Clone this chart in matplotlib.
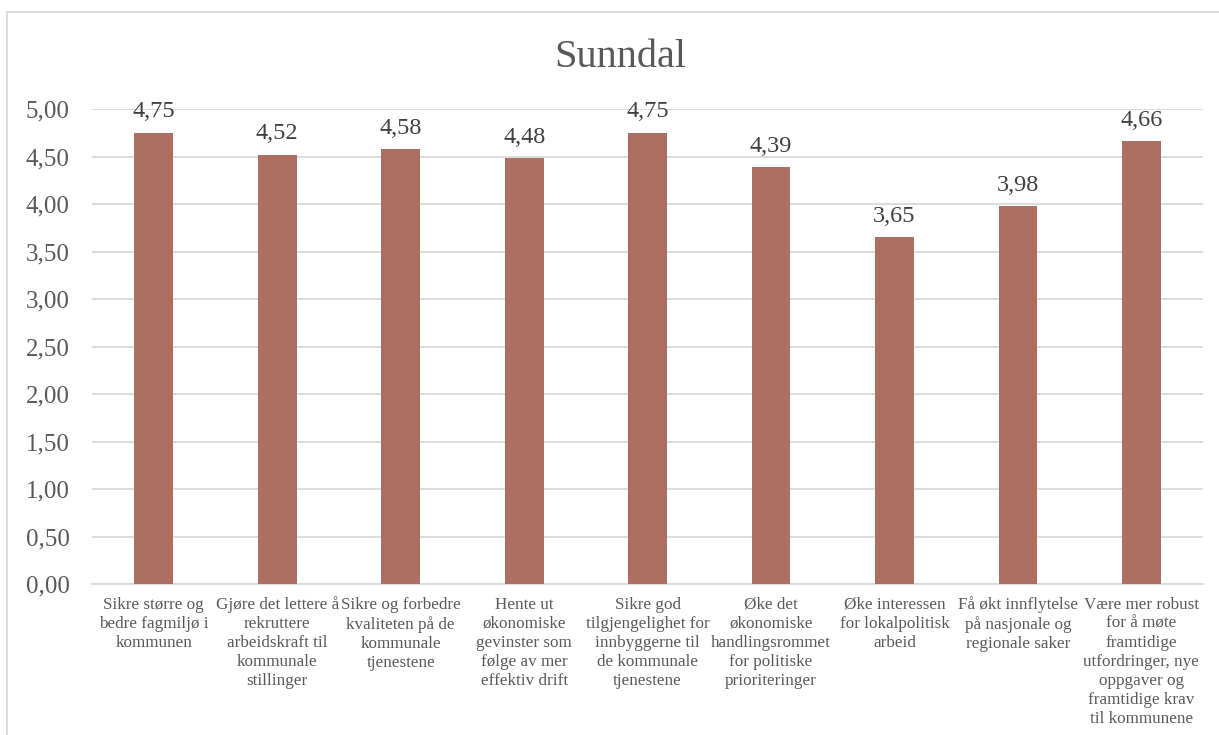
import matplotlib.pyplot as plt
from matplotlib.patches import Rectangle
from matplotlib.ticker import FuncFormatter

# Data
categories = [
    "Sikre større og\nbedre fagmiljø i\nkommunen",
    "Gjøre det lettere å\nrekruttere\narbeidskraft til\nkommunale\nstillinger",
    "Sikre og forbedre\nkvaliteten på de\nkommunale\ntjenestene",
    "Hente ut\nøkonomiske\ngevinster som\nfølge av mer\neffektiv drift",
    "Sikre god\ntilgjengelighet for\ninnbyggerne til\nde kommunale\ntjenestene",
    "Øke det\nøkonomiske\nhandlingsrommet\nfor politiske\nprioriteringer",
    "Øke interessen\nfor lokalpolitisk\narbeid",
    "Få økt innflytelse\npå nasjonale og\nregionale saker",
    "Være mer robust\nfor å møte\nframtidige\nutfordringer, nye\noppgaver og\nframtidige krav\ntil kommunene",
]
values = [4.75, 4.52, 4.58, 4.48, 4.75, 4.39, 3.65, 3.98, 4.66]
y_ticks = [0, 0.5, 1.0, 1.5, 2.0, 2.5, 3.0, 3.5, 4.0, 4.5, 5.0]

bar_color = '#AE6F63'
text_color = '#595959'
grid_color = '#D9D9D9'

plt.rcParams['font.family'] = ['Liberation Serif', 'DejaVu Serif']

fig = plt.figure(figsize=(12.19, 7.35), dpi=100)
ax = fig.add_axes([0.0755, 0.2054, 0.9115, 0.6463])

# Chart border (only top and left visible in the crop)
fig.patches.append(Rectangle((7 / 1219, -0.1), 1.1, 1 - 12 / 735 + 0.1,
                             transform=fig.transFigure, fill=False,
                             edgecolor=grid_color, linewidth=1.3))

x = range(len(values))
ax.bar(x, values, width=0.315, color=bar_color, zorder=3)

# Value labels
for i, v in zip(x, values):
    ax.annotate(f"{v:.2f}".replace('.', ','), (i, v), xytext=(0, 11),
                textcoords='offset points', ha='center', va='baseline',
                fontsize=17.5, color='#404040', zorder=4)

ax.set_xlim(-0.5, len(values) - 0.5)
ax.set_ylim(0, 5)
ax.set_yticks(y_ticks)
ax.yaxis.set_major_formatter(FuncFormatter(lambda v, p: f"{v:.2f}".replace('.', ',')))
ax.set_xticks(list(x))
ax.set_xticklabels(categories, fontsize=12.3, color=text_color, linespacing=1.25)
ax.tick_params(axis='y', length=0, pad=16, labelsize=18, labelcolor=text_color)
ax.tick_params(axis='x', length=0, pad=9)

ax.grid(axis='y', color=grid_color, linewidth=1.3, zorder=0)
for s in ['top', 'right', 'left']:
    ax.spines[s].set_visible(False)
ax.spines['bottom'].set_color(grid_color)
ax.spines['bottom'].set_linewidth(1.3)

fig.text(0.509, 0.922, 'Sunndal', ha='center', va='center', fontsize=29,
         color=text_color)

plt.savefig('out.png', dpi=100)
